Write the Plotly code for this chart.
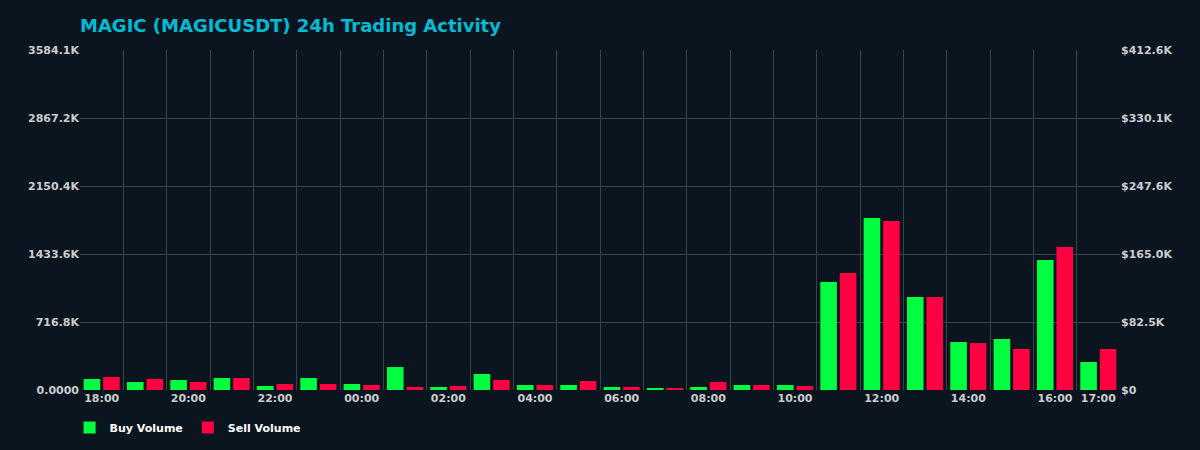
import plotly.graph_objects as go

hours = ["18:00","19:00","20:00","21:00","22:00","23:00","00:00","01:00","02:00","03:00","04:00","05:00",
         "06:00","07:00","08:00","09:00","10:00","11:00","12:00","13:00","14:00","15:00","16:00","17:00"]
buy_k = [116,84,105,126,42,126,63,242,32,169,53,53,32,21,32,53,53,1138,1813,980,506,538,1370,295]
sell_k = [137,116,84,126,63,63,53,32,42,105,53,95,32,21,84,53,42,1233,1781,980,495,432,1507,432]
left_ticks = [0, 716.8, 1433.6, 2150.4, 2867.2, 3584.1]
right_ticks = [0, 82.5, 165.0, 247.6, 330.1, 412.6]
shown = [0,2,4,6,8,10,12,14,16,18,20,22,23]

pos = list(range(len(hours)))
fig = go.Figure()
fig.add_trace(go.Bar(x=pos, y=buy_k, name="Buy Volume", marker=dict(color="#00ff41", line_width=0)))
fig.add_trace(go.Bar(x=pos, y=sell_k, name="Sell Volume", marker=dict(color="#ff0040", line_width=0)))
fig.add_trace(go.Scatter(x=[pos[0], pos[-1]], y=[0, 0], yaxis="y2", mode="lines",
                         line=dict(width=0), showlegend=False, hoverinfo="skip"))

tickfont = dict(color="#cccccc", size=11, family="DejaVu Sans", weight="bold")
fig.update_layout(
    width=1200, height=450,
    paper_bgcolor="#0b1520", plot_bgcolor="#0b1520",
    margin=dict(l=80, r=80, t=50, b=60),
    title=dict(text="<b>MAGIC (MAGICUSDT) 24h Trading Activity</b>", x=0.0667, xanchor="left",
               y=0.942, yanchor="middle",
               font=dict(color="#00bcd4", size=18, family="DejaVu Sans")),
    barmode="group", bargap=0.1, bargroupgap=0.15,
    font=dict(family="DejaVu Sans", color="#cccccc"),
    xaxis=dict(range=[-0.5, 23.5], tickvals=shown, ticktext=[hours[i] for i in shown], tickfont=tickfont,
               showgrid=False, zeroline=False, automargin=False,
               minor=dict(tickvals=[i + 0.5 for i in range(-1, 23)], showgrid=True, gridcolor="#3a424c", ticklen=0)),
    yaxis=dict(range=[0, 3584.1], tickvals=left_ticks, automargin=False,
               ticktext=["0.0000"] + [f"{v:.1f}K" for v in left_ticks[1:]],
               tickfont=tickfont, showgrid=True, gridcolor="#3a424c", zeroline=False),
    yaxis2=dict(range=[0, 412.6], overlaying="y", side="right", tickvals=right_ticks, automargin=False,
                ticktext=["$0"] + [f"${v:.1f}K" for v in right_ticks[1:]], tickfont=tickfont,
                showgrid=False, zeroline=False),
    legend=dict(orientation="h", x=0.058, xref="container", y=0.05, yref="container",
                xanchor="left", yanchor="middle",
                font=dict(color="#ffffff", size=11, family="DejaVu Sans", weight="bold")),
)
fig.write_html("out.html", config={"displayModeBar": False},
               post_script="document.body.style.margin='0';document.body.style.background='#0b1520';")
